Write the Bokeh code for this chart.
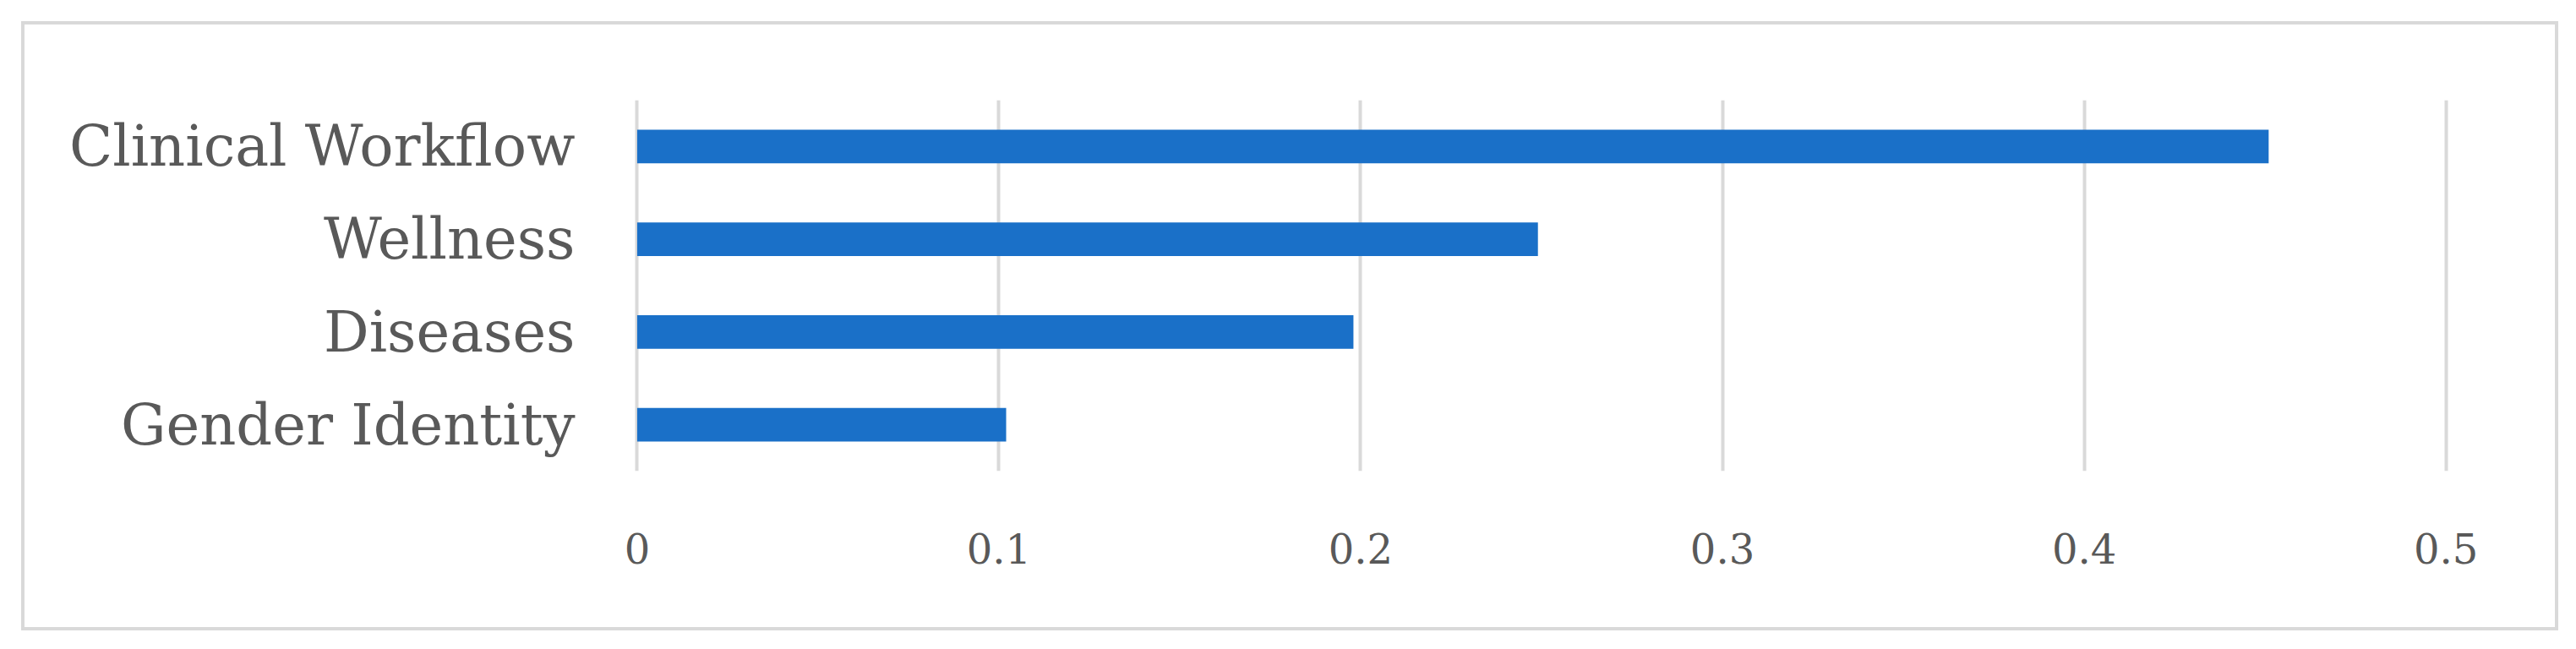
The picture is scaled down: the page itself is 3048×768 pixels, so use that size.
from bokeh.plotting import figure
from bokeh.models import ColumnDataSource, Range1d, FactorRange, FixedTicker, NumeralTickFormatter
from bokeh.embed import file_html
from bokeh.resources import INLINE

categories = ["Gender Identity", "Diseases", "Wellness", "Clinical Workflow"]
values = [0.102, 0.198, 0.249, 0.451]
x_ticks = [0, 0.1, 0.2, 0.3, 0.4, 0.5]

BAR = "#1A70C8"
GRID = "#D9D9D9"
TXT = "#595959"
FONT = "DejaVu Serif"

src = ColumnDataSource(dict(cat=categories, val=values))

p = figure(
    width=2994, height=713,
    y_range=FactorRange(factors=categories, range_padding=0),
    x_range=Range1d(-0.0008, 0.5008),
    output_backend="svg", toolbar_location=None,
    min_border_left=721, min_border_right=134, min_border_top=89, min_border_bottom=193,
    margin=(25, 0, 0, 25),
)
p.styles = {"border": f"4px solid {GRID}", "box-sizing": "content-box"}

p.hbar(y="cat", right="val", left=0, height=0.36, source=src,
       fill_color=BAR, line_color=None)

p.outline_line_color = None
p.background_fill_color = "white"
p.border_fill_color = "white"

p.xgrid.grid_line_color = GRID
p.xgrid.grid_line_width = 4
p.ygrid.grid_line_color = None
p.xaxis.ticker = FixedTicker(ticks=x_ticks)
p.xgrid.ticker = FixedTicker(ticks=x_ticks)
p.xaxis.formatter = NumeralTickFormatter(format="0.[0]")

for ax in (p.xaxis[0], p.yaxis[0]):
    ax.axis_line_color = None
    ax.major_tick_line_color = None
    ax.minor_tick_line_color = None
    ax.major_tick_in = 0
    ax.major_tick_out = 0
    ax.major_label_text_color = TXT
    ax.major_label_text_font = FONT

p.yaxis.major_label_text_font_size = "67px"
p.yaxis.major_label_standoff = 70
p.xaxis.major_label_text_font_size = "48px"
p.xaxis.major_label_standoff = 73

open("out.html", "w").write(file_html(p, INLINE))
